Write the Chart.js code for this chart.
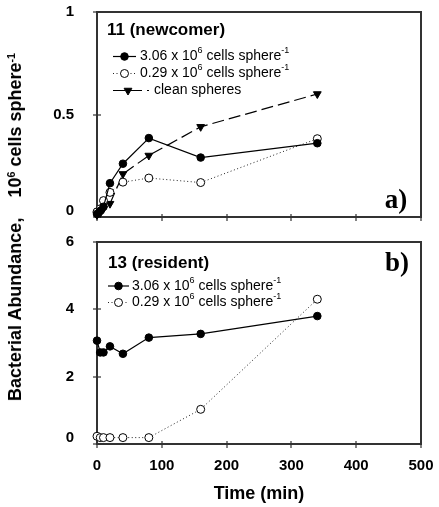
<!DOCTYPE html>
<html><head><meta charset="utf-8">
<script src="https://cdn.jsdelivr.net/npm/chart.js@4.4.1/dist/chart.umd.min.js"></script>
<style>
html,body{margin:0;padding:0;background:#fff;}
#wrap{position:relative;width:439px;height:507px;overflow:hidden;font-family:"Liberation Sans",Arial,sans-serif;}
#c1{position:absolute;left:0;top:0;}
#c2{position:absolute;left:0;top:230px;}
#ytitle{position:absolute;left:15px;top:227px;transform:translate(-50%,-50%) rotate(-90deg);white-space:nowrap;font-weight:bold;font-size:18px;color:#000;line-height:20px;}
#ytitle sup{font-size:0.6em;vertical-align:0.6em;line-height:0;}
</style></head><body>
<div id="wrap">
<canvas id="c1" width="439" height="230"></canvas>
<canvas id="c2" width="439" height="277"></canvas>
<div id="ytitle">Bacterial Abundance,&nbsp;&nbsp;&nbsp; 10<sup>6</sup> cells sphere<sup>-1</sup></div>
</div>
<script>
// ---- data ----
const times = [0, 5, 10, 20, 40, 80, 160, 340];
const newcomerHigh  = [0.015, 0.03, 0.05, 0.165, 0.26, 0.385, 0.29, 0.36];
const newcomerLow   = [0.025, 0.04, 0.08, 0.12, 0.17, 0.19, 0.168, 0.382];
const newcomerClean = [0.01, 0.02, 0.04, 0.065, 0.21, 0.30, 0.44, 0.60];
const residentHigh  = [3.07, 2.72, 2.72, 2.90, 2.68, 3.16, 3.27, 3.80];
const residentLow   = [0.23, 0.19, 0.19, 0.19, 0.19, 0.19, 1.03, 4.30];
const xTicks = [0, 100, 200, 300, 400, 500];
const yTicksTop = [0, 0.5, 1];
const yTicksBottom = [0, 2, 4, 6];
const labelHigh = '3.06 x 10^6 cells sphere^-1';
const labelLow = '0.29 x 10^6 cells sphere^-1';
const labelClean = 'clean spheres';
const panelTitleTop = '11 (newcomer)';
const panelTitleBottom = '13 (resident)';
const xTitle = 'Time (min)';

const FONT = '"Liberation Sans", Arial, sans-serif';
const AXIS = '#333333';

function pts(ys){ return times.map((t,i)=>({x:t, y:ys[i]})); }

const styleHigh  = {borderColor:'#000', backgroundColor:'#000', borderWidth:1.2, pointStyle:'circle', pointRadius:3.8, pointBorderWidth:1, pointBackgroundColor:'#000', pointBorderColor:'#000', pointRotation:0, borderDash:[]};
const styleLow   = {borderColor:'#222', backgroundColor:'#fff', borderWidth:1, pointStyle:'circle', pointRadius:4, pointBorderWidth:1, pointBackgroundColor:'#fff', pointBorderColor:'#000', pointRotation:0, borderDash:[1,2.5]};
const styleClean = {borderColor:'#000', backgroundColor:'#000', borderWidth:1.2, pointStyle:'triangle', pointRadius:4.5, pointBorderWidth:1, pointBackgroundColor:'#000', pointBorderColor:'#000', pointRotation:180, borderDash:[12,5]};

function ds(label, ys, st){ return Object.assign({label, data:pts(ys), tension:0, clip:false, fill:false}, st); }

function drawRich(ctx, text, x, y, size, bold){
  const parts = text.split(/\^(\S+)/);
  let cx = x;
  ctx.textAlign = 'left'; ctx.textBaseline = 'middle';
  parts.forEach((p,i)=>{
    if(!p) return;
    const sup = i % 2 === 1;
    const fs = sup ? Math.round(size*0.62) : size;
    ctx.font = (bold?'bold ':'') + fs + 'px ' + FONT;
    ctx.fillText(p, cx, sup ? y - size*0.42 : y);
    cx += ctx.measureText(p).width;
  });
}

function drawMarker(ctx, st, x, y){
  ctx.save();
  ctx.lineWidth = st.pointBorderWidth; ctx.strokeStyle = st.pointBorderColor; ctx.fillStyle = st.pointBackgroundColor;
  ctx.setLineDash([]);
  ctx.beginPath();
  const r = st.pointRadius;
  if(st.pointStyle === 'triangle'){
    const s = Math.sin(Math.PI/3)*r;
    ctx.moveTo(x, y + r); ctx.lineTo(x - s, y - r/2); ctx.lineTo(x + s, y - r/2); ctx.closePath();
  } else {
    ctx.arc(x, y, r, 0, Math.PI*2);
  }
  ctx.fill(); ctx.stroke();
  ctx.restore();
}

const panelPlugin = {
  id:'panel',
  beforeDatasetsDraw(chart){
    const ctx = chart.ctx, a = chart.chartArea;
    const L = Math.round(a.left), T = Math.round(a.top), R = Math.round(a.right), B = Math.round(a.bottom);
    ctx.save();
    ctx.fillStyle = AXIS;
    ctx.fillRect(L - 1, T - 1, R - L + 2, 2);   // top
    ctx.fillRect(L - 1, B - 1, R - L + 2, 2);   // bottom
    ctx.fillRect(L - 1, T - 1, 2, B - T + 2);   // left
    ctx.fillRect(R - 1, T - 1, 2, B - T + 2);   // right
    // tick marks crossing the axes
    const xs = chart.scales.x, ys = chart.scales.y;
    xs.ticks.forEach(t=>{ const px = Math.round(xs.getPixelForValue(t.value)); ctx.fillRect(px - 0.6, B - 3, 1.2, 7); });
    ys.ticks.forEach(t=>{ const py = Math.round(ys.getPixelForValue(t.value)); ctx.fillRect(L - 4, py - 0.6, 8, 1.2); });
    ctx.restore();
  },
  afterDraw(chart, args, opts){
    const ctx = chart.ctx;
    ctx.save();
    ctx.fillStyle = '#000';
    // title
    ctx.font = 'bold 17px ' + FONT; ctx.textAlign='left'; ctx.textBaseline='middle';
    ctx.fillText(opts.title, opts.titleX, opts.titleY);
    // panel letter
    ctx.font = 'bold 27px "Liberation Serif", "Times New Roman", serif'; ctx.textAlign='center';
    ctx.fillText(opts.letter, opts.letterX, opts.letterY);
    // legend rows
    opts.rows.forEach(row=>{
      const d = chart.data.datasets[row.dataset];
      ctx.save();
      ctx.strokeStyle = d.borderColor; ctx.lineWidth = d.borderWidth; ctx.setLineDash(d.borderDash||[]);
      ctx.beginPath(); ctx.moveTo(row.x0, row.y); ctx.lineTo(row.x1, row.y); ctx.stroke();
      ctx.restore();
      drawMarker(ctx, d, row.mx, row.y);
      ctx.fillStyle = '#000';
      drawRich(ctx, d.label, row.tx, row.y, 14, false);
    });
    ctx.restore();
  }
};

function noPad(s){ s.paddingTop = 0; s.paddingBottom = 0; s.paddingLeft = 0; s.paddingRight = 0; }

function makeScales(yTicks, ymax, showXLabels, xHeight){
  return {
    x:{type:'linear', min:0, max:500,
      afterBuildTicks:s=>{ s.ticks = xTicks.map(v=>({value:v})); },
      afterFit:s=>{ s.height = xHeight; noPad(s); },
      border:{display:false},
      grid:{display:false, drawTicks:false, tickLength:4},
      ticks:{display:showXLabels, color:'#000', font:{family:FONT, size:15, weight:'bold'}, padding:13, maxRotation:0},
      title:{display:showXLabels, text:xTitle, color:'#000', font:{family:FONT, size:18, weight:'bold'}, padding:{top:0, bottom:2}}
    },
    y:{type:'linear', min:0, max:ymax,
      afterBuildTicks:s=>{ s.ticks = yTicks.map(v=>({value:v})); },
      afterFit:s=>{ s.width = 97; noPad(s); },
      border:{display:false},
      grid:{display:false, drawTicks:false, tickLength:4},
      ticks:{color:'#000', padding:23,
        // the zero label sits a little above the axis corner, as in the original
        font:c=>({family:FONT, size:15, weight:'bold', lineHeight: (c.tick && c.tick.value===0) ? 0.8 : 1.2}),
        callback:v=> v===0 ? ['0',''] : String(v)}
    }
  };
}

const common = {
  responsive:false, animation:false, devicePixelRatio:1,
  plugins:{legend:{display:false}, tooltip:{enabled:false}},
};

new Chart(document.getElementById('c1'), {
  type:'line',
  data:{datasets:[ds(labelHigh, newcomerHigh, styleHigh), ds(labelLow, newcomerLow, styleLow), ds(labelClean, newcomerClean, styleClean)]},
  options:Object.assign({}, common, {
    layout:{padding:{top:12, right:18, left:0, bottom:0}},
    scales:makeScales(yTicksTop, 1, false, 13),
    plugins:Object.assign({}, common.plugins, {panel:{
      title:panelTitleTop, titleX:107, titleY:30, letter:'a)', letterX:396, letterY:201,
      rows:[
        {dataset:0, y:56.5, x0:113, x1:136, mx:124.5, tx:140},
        {dataset:1, y:73.5, x0:113, x1:136, mx:124.5, tx:140},
        {dataset:2, y:90.5, x0:113, x1:149, mx:128, tx:154}
      ]}})
  }),
  plugins:[panelPlugin]
});

new Chart(document.getElementById('c2'), {
  type:'line',
  data:{datasets:[ds(labelHigh, residentHigh, styleHigh), ds(labelLow, residentLow, styleLow)]},
  options:Object.assign({}, common, {
    layout:{padding:{top:12, right:18, left:0, bottom:0}},
    scales:makeScales(yTicksBottom, 6, true, 63),
    plugins:Object.assign({}, common.plugins, {panel:{
      title:panelTitleBottom, titleX:108, titleY:33, letter:'b)', letterX:397, letterY:34,
      rows:[
        {dataset:0, y:56, x0:108, x1:129, mx:118.5, tx:132},
        {dataset:1, y:72.5, x0:108, x1:129, mx:118.5, tx:132}
      ]}})
  }),
  plugins:[panelPlugin]
});
</script>
</body></html>
